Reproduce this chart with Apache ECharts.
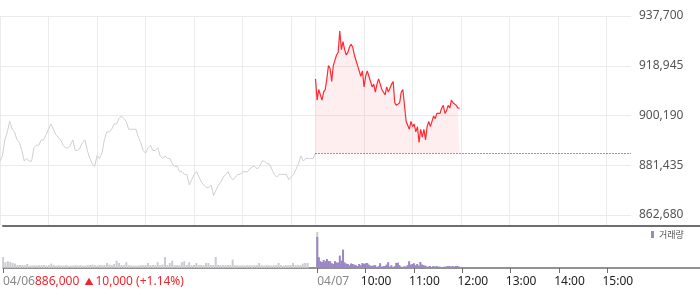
<!DOCTYPE html>
<html><head><meta charset="utf-8">
<script src="https://cdn.jsdelivr.net/npm/echarts@6/dist/echarts.min.js"></script>
<style>html,body{margin:0;padding:0;background:#fff}#c{width:700px;height:289px}</style>
</head><body><div id="c"></div>
<script>
// ---- data ----
const prevClose = 886000;                       // 04/06 close (baseline of today's area)
const prevDayInfo = '886,000 ▲10,000 (+1.14%)';
const dateLabels = ['04/06', '04/07'];
const timeLabels = ['10:00', '11:00', '12:00', '13:00', '14:00', '15:00'];
const priceTicks = [862680, 881435, 900190, 918945, 937700];
const prevStepMin = 3;   // 04/06 price/volume sampled every 3 minutes from 09:00
const todayStepMin = 2;  // 04/07 price/volume sampled every 2 minutes from 09:00

const prevPrices = [
  883000,885000,891000,894000,898000,895000,894000,891000,890000,887000,
  883000,884000,883000,883000,888000,889000,889000,891000,891000,893000,
  895000,897000,895000,893000,892000,891000,889000,888000,888000,889000,
  891000,887000,887000,888000,890000,891000,887000,884000,882000,881000,
  885000,884000,886000,891000,894000,894000,895000,897000,897000,899000,
  900000,899000,898000,895000,895000,895000,895000,892000,890000,887000,
  886000,888000,889000,887000,887000,888000,885000,884000,885000,884000,
  884000,882000,881000,881000,879000,879000,878000,878000,874000,876000,
  878000,879000,877000,875000,874000,873000,873000,874000,870000,872000,
  874000,875000,877000,878000,879000,877000,876000,877000,878000,878000,
  879000,879000,879000,880000,881000,881000,880000,881000,883000,883000,
  882000,882000,880000,878000,877000,878000,878000,878000,878000,876000,
  877000,878000,880000,882000,885000,883000,884000,884000,884000,884000,
  886000
];
const todayPrices = [
  914000,906000,910000,908000,906000,909000,910000,914000,919000,918000,
  913000,919000,919000,923000,924000,932000,925000,928000,925000,923000,
  924000,926000,927000,926000,923000,921000,919000,917000,915000,917000,
  911000,915000,917000,915000,915000,911000,912000,909000,912000,914000,
  912000,910000,910000,908000,911000,909000,909000,912000,913000,905000,
  904000,904000,905000,909000,910000,904000,898000,898000,895000,898000,
  896000,897000,894000,896000,890000,895000,892000,895000,891000,896000,
  898000,896000,898000,900000,899000,901000,901000,901000,903000,904000,
  901000,902000,904000,903000,906000,905000,905000,904000,903000,903000
];
const prevVolumes = [
  550,290,340,300,250,220,150,150,150,140,
  200,120,120,140,120,140,140,150,120,140,
  220,140,120,140,120,120,140,120,120,120,
  140,120,140,120,120,140,150,170,140,120,
  150,140,140,250,170,150,200,370,250,150,
  140,290,140,120,120,120,120,140,140,150,
  250,140,150,140,290,140,170,550,150,250,
  370,150,140,140,290,340,150,290,140,150,
  250,140,150,140,250,250,150,150,550,150,
  140,140,140,150,140,420,140,140,120,140,
  120,140,140,120,140,140,250,140,120,140,
  140,120,140,140,250,140,120,140,140,150,
  250,140,140,140,220,250,250,0,0,0,
  1800
];
const todayVolumes = [
  1550,540,340,300,400,340,450,350,340,240,
  200,340,280,270,620,370,920,280,220,200,
  140,230,200,170,140,100,200,140,250,200,
  240,250,170,120,100,140,140,50,90,240,
  70,90,100,170,290,70,140,50,90,250,
  270,140,70,50,90,70,140,340,170,200,
  240,140,200,120,300,170,140,120,70,70,
  100,50,100,70,100,70,70,50,50,70,
  70,100,100,70,100,70,100,100,70,50
];

// ---- axis construction (minutes of trading time, two sessions of 390 min) ----
const SESSION = 390;
const MAIN_MIN = 2 * SESSION;              // 04/06 09:00 .. 04/07 15:30
const VOL_MIN = 865;                        // volume panel runs to the right edge
const mkCats = n => Array.from({length: n + 1}, (_, i) => String(i));
const mainCats = mkCats(MAIN_MIN);
const volCats = mkCats(VOL_MIN);

const gridMinutes = new Set();
for (let m = 0; m < SESSION; m += 60) gridMinutes.add(m);
for (let m = SESSION; m < MAIN_MIN; m += 60) gridMinutes.add(m);

const tickMinutes = new Set([0]);
for (let m = SESSION; m < MAIN_MIN; m += 60) tickMinutes.add(m);
const labelShift = 6;
const labelAt = {};
const infoRich = prevDayInfo.replace('▲', '}{a|▲}{r|');
labelAt[0] = '{d|' + dateLabels[0] + '}{r|' + infoRich + '}';
labelAt[SESSION] = '{d|' + dateLabels[1] + '}';
timeLabels.forEach((t, i) => { labelAt[SESSION + 60 * (i + 1) - labelShift] = '{t|' + t + '}'; });

const prevSeries = prevPrices.map((v, k) => [k * prevStepMin, v]);
const todaySeries = todayPrices.map((v, j) => [SESSION + j * todayStepMin, v]);
const prevVolSeries = prevVolumes.map((v, k) => [k * prevStepMin, v]);
const todayVolSeries = todayVolumes.map((v, j) => [SESSION + j * todayStepMin, v]);

const FONT = "'Noto Sans', 'Noto Sans CJK KR', sans-serif";
const hidden = {axisLine:{show:false}, axisTick:{show:false}, axisLabel:{show:false}, splitLine:{show:false}};

const chart = echarts.init(document.getElementById('c'), null, {renderer: 'canvas'});
chart.setOption({
  animation: false,
  textStyle: {fontFamily: FONT},
  grid: [
    {left: 0, top: 16, width: 631, height: 209},   // vertical split lines
    {left: 0, top: 16, width: 631, height: 199},   // prices
    {left: 0, top: 226, width: 700, height: 42}    // volume
  ],
  legend: {
    data: ['거래량'], left: 651, top: 230, padding: 0,
    icon: 'rect', itemWidth: 3, itemHeight: 7,
    textStyle: {fontSize: 9, color: '#555', fontFamily: "'Noto Sans CJK KR', sans-serif"}
  },
  xAxis: [
    Object.assign({}, hidden, {type: 'category', gridIndex: 0, data: mainCats, boundaryGap: false,
      splitLine: {show: true, interval: i => gridMinutes.has(i), lineStyle: {color: '#ebebeb', width: 1}}}),
    Object.assign({}, hidden, {type: 'category', gridIndex: 1, data: mainCats, boundaryGap: false}),
    {type: 'category', gridIndex: 2, data: volCats, boundaryGap: false,
      axisLine: {show: true, lineStyle: {color: '#6e6e6e', width: 1.5}},
      axisTick: {show: true, interval: i => tickMinutes.has(i), length: 5, lineStyle: {color: '#6e6e6e', width: 1}},
      axisLabel: {show: true, interval: i => labelAt[i] !== undefined, formatter: (v, i) => labelAt[i],
        align: 'left', margin: 8, fontSize: 12, fontFamily: FONT,
        rich: {
          d: {color: '#888', fontSize: 12, fontFamily: FONT},
          r: {color: '#f0262f', fontSize: 12, fontFamily: FONT},
          a: {color: '#f0262f', fontSize: 9, fontFamily: FONT, padding: [0, 2, 0, 2]},
          t: {color: '#222', fontSize: 12, fontFamily: FONT}
        }},
      splitLine: {show: false}},
    Object.assign({}, hidden, {type: 'category', gridIndex: 2, data: volCats, boundaryGap: false, position: 'top',
      axisLine: {show: true, lineStyle: {color: '#6e6e6e', width: 2}}})
  ],
  yAxis: [
    Object.assign({}, hidden, {type: 'value', gridIndex: 0, min: 0, max: 1}),
    {type: 'value', gridIndex: 1, position: 'right', min: priceTicks[0], max: priceTicks[priceTicks.length - 1],
      interval: priceTicks[1] - priceTicks[0],
      axisLine: {show: false}, axisTick: {show: false},
      axisLabel: {margin: 8, color: '#555', fontSize: 12, fontFamily: FONT,
        formatter: v => Math.round(v).toLocaleString('en-US')},
      splitLine: {show: true, lineStyle: {color: '#ebebeb', width: 1}}},
    Object.assign({}, hidden, {type: 'value', gridIndex: 2, min: 0, max: 2100})
  ],
  series: [
    {name: '04/06', type: 'line', xAxisIndex: 1, yAxisIndex: 1, data: prevSeries,
      symbol: 'none', lineStyle: {color: '#cfcfd6', width: 1}, z: 3},
    {name: '04/07', type: 'line', xAxisIndex: 1, yAxisIndex: 1, data: todaySeries,
      symbol: 'none', lineStyle: {color: '#ff2a33', width: 1.2},
      areaStyle: {origin: prevClose, color: 'rgba(244, 80, 96, 0.14)'}, z: 4,
      markLine: {silent: true, symbol: 'none', label: {show: false},
        lineStyle: {color: '#333', type: [1, 2], width: 1},
        data: [[{coord: [SESSION, prevClose]}, {coord: [MAIN_MIN, prevClose]}]]}},
    {name: '전일거래량', type: 'bar', xAxisIndex: 2, yAxisIndex: 2, data: prevVolSeries,
      barWidth: 2, barGap: '-100%', itemStyle: {color: '#cbcbd0'}},
    {name: '거래량', type: 'bar', xAxisIndex: 2, yAxisIndex: 2, data: todayVolSeries,
      barWidth: 2, barGap: '-100%', itemStyle: {color: '#9a85c6'}}
  ]
});
</script></body></html>
